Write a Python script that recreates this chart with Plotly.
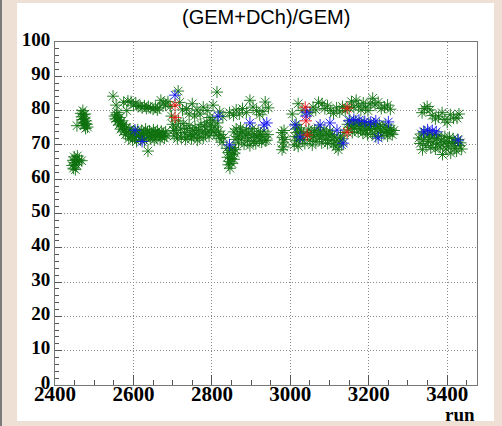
import plotly.graph_objects as go

# ---------------- data ----------------
green_run = [
    # cluster ~2450
    2444, 2446, 2447, 2449, 2450, 2452, 2453, 2455, 2457, 2459, 2462, 2468,
    # cluster ~2475
    2456, 2466, 2468, 2470, 2471, 2472, 2473, 2474, 2475, 2476, 2477, 2478, 2479, 2481, 2483,
    # cluster ~2560
    2548, 2552, 2554, 2556, 2557, 2559, 2560, 2562, 2563, 2565, 2567, 2568, 2570, 2572, 2574, 2576, 2578, 2580, 2582,
    # upper row 2575-2695
    2575, 2583, 2586, 2594, 2600, 2606, 2612, 2617, 2622, 2628, 2633, 2638, 2644, 2650, 2656, 2661, 2666, 2670, 2676, 2682, 2688, 2694,
    # dense lower 2585-2685
    2586, 2588, 2591, 2593, 2596, 2598, 2601, 2603, 2606, 2608, 2611, 2613, 2616, 2618, 2621, 2623, 2626, 2628, 2631, 2633,
    2636, 2638, 2641, 2643, 2646, 2648, 2651, 2653, 2656, 2658, 2661, 2663, 2666, 2668, 2671, 2673, 2676, 2679, 2682, 2685,
    2637,
    # around 2700
    2697, 2700, 2702, 2704, 2708, 2710, 2712, 2714, 2715, 2718, 2720, 2722, 2725, 2727,
    # dense 2730-2830
    2730, 2733, 2736, 2739, 2742, 2745, 2748, 2751, 2754, 2757, 2760, 2763, 2766, 2769, 2772, 2775, 2778, 2781, 2784, 2787,
    2790, 2793, 2796, 2799, 2802, 2805, 2808, 2811, 2814, 2817, 2820, 2823, 2826, 2830,
    # upper scattered 2735-2830
    2735, 2742, 2750, 2756, 2762, 2770, 2778, 2788, 2795, 2803, 2813, 2820, 2828,
    # drop 2840-2860
    2838, 2840, 2842, 2843, 2845, 2846, 2848, 2849, 2851, 2852, 2854, 2856, 2858, 2860,
    # dense 2855-2945
    2856, 2859, 2862, 2865, 2868, 2870, 2873, 2876, 2879, 2882, 2885, 2888, 2891, 2894, 2897, 2900, 2903, 2906, 2909, 2912,
    2915, 2918, 2921, 2924, 2927, 2930, 2933, 2936, 2940, 2943,
    # upper 2845-2945
    2845, 2855, 2862, 2870, 2878, 2888, 2897, 2905, 2914, 2922, 2930, 2936, 2944,
    # columns ~2980 and ~3015
    2978, 2980, 2981, 2983, 2984, 2986, 2979,
    3010, 3012, 3014, 3015, 3016, 3018, 3020, 3022, 3024,
    # upper 3005-3140
    3005, 3020, 3030, 3050, 3058, 3065, 3072, 3081, 3088, 3095, 3103, 3110, 3118, 3126, 3133, 3140,
    # dense 3028-3137
    3028, 3031, 3034, 3037, 3044, 3047, 3050, 3053, 3056, 3059, 3062, 3065, 3068, 3071, 3074, 3077, 3080, 3083, 3086, 3089,
    3092, 3095, 3098, 3101, 3104, 3107, 3110, 3113, 3116, 3119, 3122, 3125, 3128, 3131, 3134, 3137,
    # upper 3150-3255
    3150, 3156, 3162, 3168, 3174, 3180, 3186, 3192, 3198, 3204, 3210, 3216, 3224, 3232, 3240, 3248, 3255,
    # dense 3146-3264
    3146, 3149, 3152, 3155, 3158, 3161, 3164, 3167, 3170, 3173, 3176, 3179, 3182, 3185, 3188, 3191, 3194, 3197, 3200, 3203,
    3206, 3209, 3212, 3215, 3218, 3221, 3224, 3227, 3230, 3233, 3236, 3239, 3242, 3245, 3248, 3251, 3254, 3257, 3260, 3264,
    # right upper 3336-3430
    3336, 3342, 3349, 3356, 3362, 3370, 3378, 3387, 3394, 3400, 3408, 3416, 3425, 3430,
    # right dense 3328-3437
    3328, 3331, 3334, 3337, 3340, 3343, 3346, 3349, 3352, 3355, 3358, 3361, 3364, 3367, 3370, 3373, 3376, 3379, 3382, 3385,
    3388, 3391, 3394, 3397, 3400, 3403, 3406, 3409, 3412, 3415, 3418, 3421, 3424, 3427, 3430, 3434, 3437,
]
green_val = [
    64.0, 65.5, 63.2, 66.5, 64.8, 62.8, 65.8, 64.2, 66.8, 65.0, 65.6, 65.4,
    75.6, 79.2, 78.2, 77.4, 80.0, 76.6, 78.8, 75.6, 77.8, 76.2, 79.0, 74.8, 77.0, 76.0, 75.2,
    84.2, 78.4, 77.6, 81.6, 78.8, 76.8, 79.4, 77.2, 75.8, 78.0, 76.4, 74.6, 77.0, 75.4, 73.8, 76.0, 74.4, 73.0, 75.0,
    82.4, 80.0, 82.8, 82.6, 81.6, 82.2, 81.2, 81.4, 80.8, 81.4, 80.6, 81.2, 80.8, 80.4, 81.0, 80.2, 80.8, 83.0, 82.2, 81.6, 82.6, 81.2,
    73.8, 71.8, 74.6, 72.6, 73.2, 71.4, 74.0, 72.2, 73.6, 71.0, 74.4, 72.4, 73.0, 71.6, 74.2, 72.8, 73.4, 71.2, 74.6, 72.0,
    73.8, 72.6, 74.0, 71.8, 73.2, 72.4, 74.4, 71.4, 73.6, 72.2, 74.2, 72.8, 73.0, 71.6, 74.0, 72.4, 73.4, 72.0, 73.8, 72.6,
    68.2,
    78.4, 76.0, 74.2, 72.6, 75.2, 73.4, 71.8, 85.7, 77.0, 82.4, 74.6, 72.2, 80.2, 76.2,
    73.6, 71.6, 74.8, 72.4, 75.6, 73.0, 71.8, 74.2, 72.6, 75.0, 73.4, 71.4, 74.4, 72.2, 76.0, 73.8, 72.0, 75.4, 73.2, 76.6,
    74.0, 72.6, 75.8, 74.4, 77.2, 73.6, 75.2, 72.8, 76.4, 74.0, 71.8, 73.0, 70.8, 72.2,
    80.6, 79.0, 82.0, 78.4, 80.2, 79.0, 81.0, 80.0, 78.0, 81.6, 85.4, 79.6, 78.2,
    69.0, 66.4, 64.2, 67.8, 65.2, 63.2, 68.4, 66.0, 64.6, 67.2, 69.2, 65.8, 67.6, 68.6,
    73.8, 71.6, 74.6, 72.4, 70.6, 73.2, 75.0, 71.8, 73.8, 70.2, 72.8, 74.4, 71.2, 73.4, 69.8, 72.2, 74.8, 71.0, 73.0, 70.4,
    72.6, 74.0, 71.4, 73.2, 70.8, 72.4, 74.0, 71.2, 71.4, 73.0,
    79.4, 78.6, 80.2, 79.0, 80.6, 79.4, 83.0, 81.0, 80.0, 78.8, 79.8, 82.5, 80.8,
    73.6, 72.2, 70.8, 69.4, 74.2, 71.6, 68.6,
    70.0, 72.4, 74.6, 76.0, 71.2, 73.6, 69.6, 75.0, 72.0,
    79.0, 82.0, 80.0, 79.4, 81.0, 80.2, 82.4, 82.0, 80.6, 81.4, 80.0, 79.2, 80.8, 79.6, 81.2, 80.0,
    74.0, 71.6, 73.2, 70.4, 72.8, 74.6, 71.4, 73.6, 70.0, 72.4, 74.2, 71.0, 73.0, 75.0, 72.0, 73.8, 70.6, 72.8, 74.4, 71.6,
    73.4, 70.4, 72.6, 74.0, 71.2, 73.0, 70.2, 72.2, 69.4, 71.4, 68.6, 70.8, 72.6, 70.0, 71.8, 73.6,
    80.8, 82.6, 81.0, 83.0, 81.4, 80.2, 82.2, 81.0, 80.0, 82.0, 83.6, 81.6, 82.4, 80.6, 81.0, 81.6, 80.4,
    76.0, 74.4, 77.2, 75.2, 73.6, 76.4, 74.8, 77.0, 75.6, 73.8, 76.2, 74.6, 75.8, 73.4, 76.6, 74.2, 75.4, 73.0, 76.0, 74.6,
    75.8, 73.2, 76.2, 74.8, 72.4, 75.4, 73.8, 76.0, 74.4, 72.8, 75.2, 73.6, 75.8, 74.0, 72.6, 75.0, 73.4, 74.6, 73.0, 74.2,
    79.4, 80.6, 81.2, 80.2, 78.6, 77.6, 78.2, 79.4, 77.4, 76.6, 78.8, 77.8, 77.8, 79.0,
    72.0, 70.4, 73.2, 68.6, 71.6, 73.8, 69.8, 72.6, 71.0, 73.4, 69.2, 72.2, 70.6, 73.0, 68.8, 71.8, 70.2, 72.8, 69.4, 71.4,
    67.2, 70.6, 72.4, 68.8, 71.0, 69.6, 72.2, 67.6, 70.4, 71.8, 69.0, 70.8, 68.2, 71.6, 69.8, 70.6, 68.8,
]

blue_run = [2604, 2622, 2706, 2816, 2845, 2897, 2933, 2940, 3012, 3025, 3040, 3042, 3076, 3101, 3119, 3135,
            3150, 3162, 3175, 3190, 3205, 3218, 3224, 3250, 3340, 3350, 3362, 3372, 3428]
blue_val = [74.3, 71.0, 84.5, 78.4, 70.0, 76.4, 75.8, 76.4, 75.8, 72.3, 78.4, 79.6, 75.8, 76.4, 74.3, 70.5,
            77.0, 77.4, 77.2, 76.8, 76.6, 77.0, 72.0, 76.7, 73.8, 74.4, 74.2, 73.8, 71.4]

red_run = [2706, 2706, 3038, 3040, 3043, 3145, 3145]
red_val = [81.6, 78.0, 81.0, 77.0, 72.9, 80.7, 73.7]

x_ticks = [2400, 2600, 2800, 3000, 3200, 3400]
y_ticks = [0, 10, 20, 30, 40, 50, 60, 70, 80, 90, 100]

# ---------------- figure ----------------
W, H = 502, 426
ML, MR, MT, MB = 55, 25, 42, 41
PW, PH = W - ML - MR, H - MT - MB


def px_x(p):
    return (p - ML) / PW


def px_y(p):
    return (H - MB - p) / PH


def star(color):
    return dict(symbol="asterisk-open", size=10, color=color, line=dict(color=color, width=0.9))


fig = go.Figure()
fig.add_trace(go.Scatter(x=green_run, y=green_val, mode="markers",
                         marker=star("#0d700d"), showlegend=False))
fig.add_trace(go.Scatter(x=blue_run, y=blue_val, mode="markers",
                         marker=star("#1414f0"), showlegend=False))
fig.add_trace(go.Scatter(x=red_run, y=red_val, mode="markers",
                         marker=star("#f01414"), showlegend=False))

grid = dict(showgrid=True, gridcolor="#8a8a8a", griddash="1px,2px", gridwidth=1)

fig.update_layout(
    width=W, height=H,
    margin=dict(l=ML, r=MR, t=MT, b=MB, pad=0),
    paper_bgcolor="#eee0d5",
    plot_bgcolor="white",
    xaxis=dict(
        range=[2400, 3476], tickvals=x_ticks, ticktext=[f"<b>{v}</b>" for v in x_ticks],
        tickfont=dict(family="Liberation Serif", size=21, color="black"),
        ticks="inside", ticklen=10, tickcolor="#555",
        ticklabelstandoff=-10,
        showline=True, linecolor="#777", linewidth=1, mirror=True,
        zeroline=False, **grid,
        minor=dict(dtick=50, tick0=2400, ticks="inside", ticklen=5, tickcolor="#555", showgrid=False),
    ),
    yaxis=dict(
        range=[0, 100], tickvals=y_ticks, ticktext=[f"<b>{v}</b>" for v in y_ticks],
        tickfont=dict(family="Liberation Serif", size=19, color="black"),
        ticks="inside", ticklen=7, tickcolor="#555",
        ticklabelshift=-3,
        showline=True, linecolor="#777", linewidth=1, mirror=True,
        zeroline=False, **grid,
        minor=dict(dtick=2, tick0=0, ticks="inside", ticklen=4, tickcolor="#555", showgrid=False),
    ),
    shapes=[
        dict(type="rect", xref="paper", yref="paper", layer="below",
             x0=px_x(17), x1=px_x(494), y0=px_y(421), y1=px_y(3),
             fillcolor="white", line=dict(width=0)),
        dict(type="rect", xref="paper", yref="paper", layer="below",
             x0=px_x(0), x1=px_x(2), y0=px_y(H), y1=px_y(0),
             fillcolor="#7a7a7a", line=dict(width=0)),
    ],
    annotations=[
        dict(text="(GEM+DCh)/GEM)", xref="paper", yref="paper", x=0.5, y=px_y(17),
             xanchor="center", yanchor="middle", showarrow=False,
             font=dict(family="Liberation Sans", size=20, color="black")),
        dict(text="<b>run</b>", xref="paper", yref="paper", x=1.0, y=px_y(414),
             xanchor="right", yanchor="middle", showarrow=False,
             font=dict(family="Liberation Serif", size=19, color="black")),
    ],
)

fig.write_html("out.html")
